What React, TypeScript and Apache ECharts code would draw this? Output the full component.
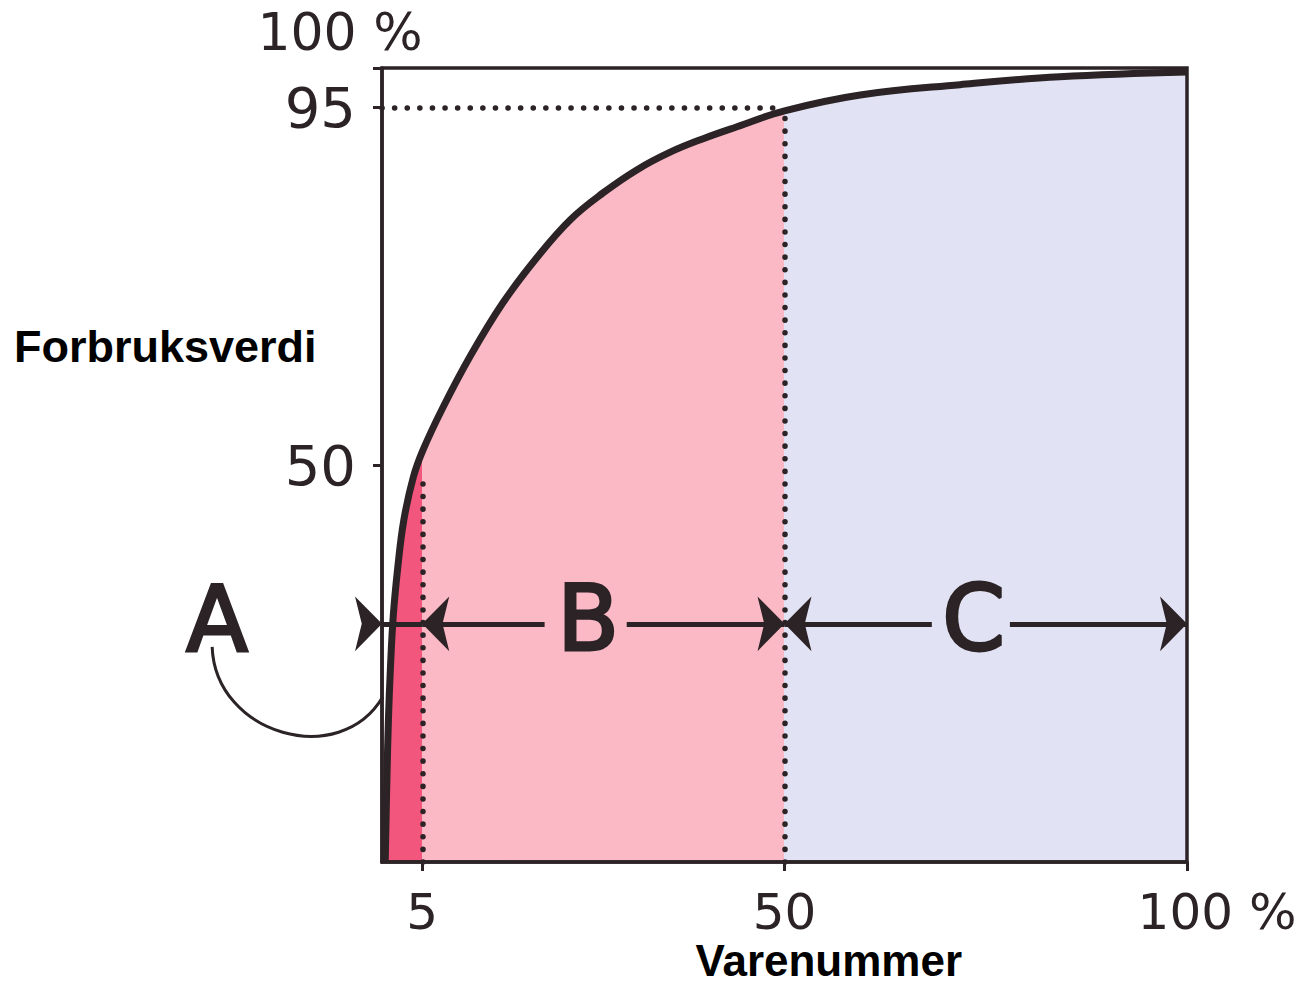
import React, { useEffect, useRef } from 'react';
import * as echarts from 'echarts';

// Cumulative share of items (%) vs cumulative consumption value (%)
const itemPct = [0.4, 0.6, 0.8, 1.05, 1.4, 1.95, 2.7, 3.9, 5.1, 7.6, 10.9, 15, 19.3, 23.4, 27.5, 31.7, 35.8, 39.9, 44.1, 50, 59.4, 71.8, 84.2, 100];
const valuePct = [0, 10, 18, 24.5, 31, 37, 43, 48.5, 51.9, 57.3, 63.6, 70.4, 76.2, 80.9, 84.3, 87.2, 89.4, 91.1, 92.6, 94.6, 96.6, 97.9, 98.9, 99.5];

const xTickValues = [5, 50, 100];
const yTickValues = [50, 95, 100];
const yLabelValues = [50, 95];

const classNames = ['A', 'B', 'C'];
const classBounds = [0, 5, 50, 100];
const classColors = ['#f2567c', '#fbb9c5', '#e1e2f3'];
const classValueAtBound = [50, 95];
const arrowLevel = 30;
// label gaps on the arrow lines (B: 20.2..30.4, C: 68.3..78)
const labelGaps = [[20.2, 30.4], [68.3, 78]];
const labelCenters = [25.6, 73.5];

const X_TITLE = 'Varenummer';
const Y_TITLE = 'Forbruksverdi';

const INK = '#2b2326';
const HAND = "'DejaVu Sans', sans-serif";
const ARIAL = "'Liberation Sans', Arial, sans-serif";
const ARROW_SIZE = [41, 27];

export default function App() {
  const ref = useRef<HTMLDivElement>(null);
  useEffect(() => {
    const chart = echarts.init(ref.current!, null, { renderer: 'svg' });
    const curve = itemPct.map((x, i) => [x, valuePct[i]]);

    const arrowLines: any[] = [
      // A shaft
      [{ coord: [classBounds[0], arrowLevel], symbol: 'none' }, { coord: [classBounds[1], arrowLevel], symbol: 'none' }],
      // B
      [{ coord: [classBounds[1], arrowLevel], symbol: 'arrow' }, { coord: [labelGaps[0][0], arrowLevel], symbol: 'none' }],
      [{ coord: [labelGaps[0][1], arrowLevel], symbol: 'none' }, { coord: [classBounds[2], arrowLevel], symbol: 'arrow' }],
      // C
      [{ coord: [classBounds[2], arrowLevel], symbol: 'arrow' }, { coord: [labelGaps[1][0], arrowLevel], symbol: 'none' }],
      [{ coord: [labelGaps[1][1], arrowLevel], symbol: 'none' }, { coord: [classBounds[3], arrowLevel], symbol: 'arrow' }],
    ];

    const letterLabel = (name: string) => ({
      show: true,
      position: 'inside',
      formatter: name,
      fontFamily: HAND,
      fontSize: 90,
      color: INK,
      textBorderColor: INK,
      textBorderWidth: 3,
    });

    const option: any = {
      animation: false,
      backgroundColor: '#ffffff',
      grid: {
        left: 382, right: 124, top: 68, bottom: 123,
        outerBoundsMode: 'none',
        containLabel: false,
        show: true, borderColor: INK, borderWidth: 3.5, backgroundColor: 'transparent', z: 5,
      },
      visualMap: {
        show: false,
        type: 'piecewise',
        dimension: 0,
        seriesIndex: 0,
        pieces: [
          { gte: classBounds[0], lt: classBounds[1], color: classColors[0] },
          { gte: classBounds[1], lt: classBounds[2], color: classColors[1] },
          { gte: classBounds[2], lte: classBounds[3], color: classColors[2] },
        ],
      },
      xAxis: {
        type: 'value', min: 0, max: 100, z: 5,
        splitLine: { show: false },
        axisLine: { show: true, lineStyle: { color: INK, width: 3.5 } },
        axisTick: { show: true, customValues: xTickValues, length: 9, lineStyle: { color: INK, width: 3 } },
        axisLabel: {
          customValues: xTickValues,
          margin: 25,
          fontFamily: HAND, fontSize: 50, color: INK,
          formatter: (v: number) => (v === 100 ? '{pct|100 %}' : String(v)),
          rich: { pct: { fontFamily: HAND, fontSize: 50, color: INK, padding: [0, 0, 0, 60] } },
        },
      },
      yAxis: {
        type: 'value', min: 0, max: 100, z: 5,
        splitLine: { show: false },
        axisLine: { show: true, lineStyle: { color: INK, width: 3.5 } },
        axisTick: { show: true, customValues: yTickValues, length: 9, lineStyle: { color: INK, width: 3 } },
        axisLabel: { customValues: yLabelValues, margin: 26, fontFamily: HAND, fontSize: 56, color: INK },
        name: '100 %',
        nameLocation: 'end',
        nameGap: 10,
        nameTextStyle: { fontFamily: HAND, fontSize: 52, color: INK, align: 'center', verticalAlign: 'bottom', padding: [0, 84, 0, 0] },
      },
      series: [
        {
          type: 'line',
          data: curve,
          smooth: 0.4,
          showSymbol: false,
          silent: true,
          lineStyle: { width: 0 },
          areaStyle: { opacity: 1 },
          z: 1,
        },
        {
          type: 'line',
          data: curve,
          smooth: 0.4,
          showSymbol: false,
          silent: true,
          lineStyle: { width: 7, color: INK },
          itemStyle: { color: INK },
          z: 6,
          markLine: {
            silent: true,
            symbol: 'none',
            label: { show: false },
            lineStyle: { type: [0.1, 12.5], cap: 'round', width: 5.5, color: INK },
            data: [
              [{ coord: [classBounds[1], 0] }, { coord: [classBounds[1], classValueAtBound[0] - 1] }],
              [{ coord: [classBounds[2], 0] }, { coord: [classBounds[2], classValueAtBound[1] - 0.5] }],
              [{ coord: [0, classValueAtBound[1]] }, { coord: [classBounds[2] - 1, classValueAtBound[1]] }],
            ],
          },
        },
        {
          type: 'line',
          data: [],
          silent: true,
          z: 7,
          markLine: {
            silent: true,
            symbolSize: ARROW_SIZE,
            label: { show: false },
            lineStyle: { type: 'solid', width: 5, color: INK },
            itemStyle: { color: INK },
            data: arrowLines,
          },
          markPoint: {
            silent: true,
            data: [
              {
                coord: [classBounds[0], arrowLevel],
                symbol: 'arrow', symbolSize: ARROW_SIZE, symbolRotate: -90,
                itemStyle: { color: INK }, label: { show: false },
              },
              {
                coord: [labelCenters[0], arrowLevel + 0.7], symbol: 'rect', symbolSize: 1,
                itemStyle: { color: 'transparent' }, label: letterLabel(classNames[1]),
              },
              {
                coord: [labelCenters[1], arrowLevel + 0.7], symbol: 'rect', symbolSize: 1,
                itemStyle: { color: 'transparent' }, label: letterLabel(classNames[2]),
              },
            ],
          },
        },
      ],
    };
    chart.setOption(option);

    const px = (x: number, y: number) => chart.convertToPixel({ gridIndex: 0 }, [x, y]) as number[];
    const aPos = px(-20.5, 30.5);
    const p0 = px(-21.1, 27.1);
    const c1 = px(-20.7, 16.0);
    const c2 = px(-5.2, 11.6);
    const p3 = px(0.1, 20.8);
    const titleY = px(0, 64.9)[1];
    const xTitle = px(55.5, 0);

    chart.setOption({
      graphic: [
        {
          type: 'text', x: aPos[0], y: aPos[1], silent: true,
          style: {
            text: classNames[0], fontFamily: HAND, fontSize: 90, fill: INK,
            stroke: INK, lineWidth: 3, align: 'center', verticalAlign: 'middle',
          },
        },
        {
          type: 'bezierCurve', silent: true,
          shape: { x1: p0[0], y1: p0[1], cpx1: c1[0], cpy1: c1[1], cpx2: c2[0], cpy2: c2[1], x2: p3[0], y2: p3[1] },
          style: { stroke: INK, lineWidth: 3, fill: 'none' },
        },
        {
          type: 'text', x: 14, y: titleY, silent: true,
          style: {
            text: Y_TITLE, fontFamily: ARIAL, fontWeight: 'bold', fontSize: 45, fill: '#000',
            align: 'left', verticalAlign: 'middle',
          },
        },
        {
          type: 'text', x: xTitle[0], y: xTitle[1] + 98, silent: true,
          style: {
            text: X_TITLE, fontFamily: ARIAL, fontWeight: 'bold', fontSize: 44, fill: '#000',
            align: 'center', verticalAlign: 'middle',
          },
        },
      ],
    });

    return () => chart.dispose();
  }, []);
  return <div ref={ref} style={{ position: 'fixed', left: 0, top: 0, width: 1311, height: 985, background: '#fff' }} />;
}
